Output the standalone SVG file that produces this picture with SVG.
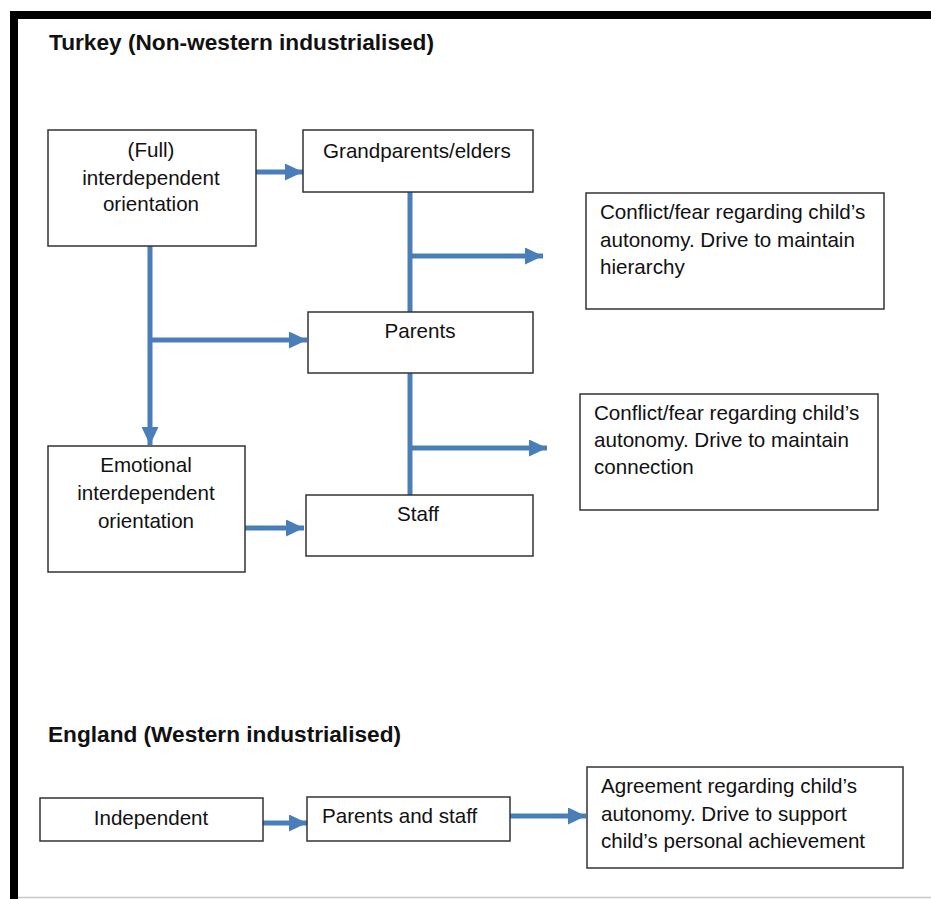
<svg xmlns="http://www.w3.org/2000/svg" width="931" height="899" viewBox="0 0 931 899">
<style>
.box{fill:#fff;stroke:#333;stroke-width:1.5}
.t{font-family:"Liberation Sans",Arial,sans-serif;font-size:20.6px;fill:#111}
.c{text-anchor:middle}
.h{font-family:"Liberation Sans",Arial,sans-serif;font-size:22px;font-weight:bold;fill:#111}
.con{fill:none;stroke:#4A7EBB;stroke-width:5}
</style>
<defs>
<marker id="ah" markerUnits="userSpaceOnUse" markerWidth="18" markerHeight="17" refX="18" refY="8.5" orient="auto" viewBox="0 0 18 17">
<path d="M0,0 L18,8.5 L0,17 z" fill="#4A7EBB"/>
</marker>
</defs>
<rect width="931" height="899" fill="#fff"/>
<path d="M14,899 V15 H931" fill="none" stroke="#000" stroke-width="8"/>
<line x1="18" y1="897.5" x2="931" y2="897.5" stroke="#c8c8c8" stroke-width="1.5"/>

<text class="h" x="49" y="50" textLength="385" lengthAdjust="spacingAndGlyphs">Turkey (Non-western industrialised)</text>
<text class="h" x="48" y="742" textLength="353" lengthAdjust="spacingAndGlyphs">England (Western industrialised)</text>

<g id="connectors">
<path class="con" d="M256,172 H303" marker-end="url(#ah)"/>
<path class="con" d="M150,246 V445" marker-end="url(#ah)"/>
<path class="con" d="M150,340 H307" marker-end="url(#ah)"/>
<path class="con" d="M410,192 V312"/>
<path class="con" d="M410,256 H543" marker-end="url(#ah)"/>
<path class="con" d="M410,373 V495"/>
<path class="con" d="M410,448 H547" marker-end="url(#ah)"/>
<path class="con" d="M245,528 H304" marker-end="url(#ah)"/>
<path class="con" d="M263,823 H307" marker-end="url(#ah)"/>
<path class="con" d="M510,816 H586" marker-end="url(#ah)"/>
</g>

<g id="full-interdependent">
<rect class="box" x="48" y="130" width="208" height="116"/>
<text class="t c" x="151" y="157">(Full)</text>
<text class="t c" x="151" y="185">interdependent</text>
<text class="t c" x="151" y="211">orientation</text>
</g>
<g id="grandparents">
<rect class="box" x="303" y="130" width="230" height="62"/>
<text class="t" x="323" y="158">Grandparents/elders</text>
</g>
<g id="conflict-hierarchy">
<rect class="box" x="586" y="193" width="298" height="116"/>
<text class="t" x="600" y="219">Conflict/fear regarding child’s</text>
<text class="t" x="600" y="247">autonomy. Drive to maintain</text>
<text class="t" x="600" y="274">hierarchy</text>
</g>
<g id="parents">
<rect class="box" x="308" y="312" width="225" height="61"/>
<text class="t c" x="420" y="338">Parents</text>
</g>
<g id="conflict-connection">
<rect class="box" x="580" y="394" width="298" height="116"/>
<text class="t" x="594" y="420">Conflict/fear regarding child’s</text>
<text class="t" x="594" y="447">autonomy. Drive to maintain</text>
<text class="t" x="594" y="474">connection</text>
</g>
<g id="emotional-interdependent">
<rect class="box" x="48" y="446" width="197" height="126"/>
<text class="t c" x="146" y="472">Emotional</text>
<text class="t c" x="146" y="500">interdependent</text>
<text class="t c" x="146" y="528">orientation</text>
</g>
<g id="staff">
<rect class="box" x="306" y="495" width="227" height="61"/>
<text class="t c" x="418" y="521">Staff</text>
</g>
<g id="independent">
<rect class="box" x="40" y="798" width="223" height="43"/>
<text class="t c" x="151" y="825">Independent</text>
</g>
<g id="parents-and-staff">
<rect class="box" x="307" y="797" width="203" height="44"/>
<text class="t" x="322" y="823">Parents and staff</text>
</g>
<g id="agreement">
<rect class="box" x="587" y="767" width="316" height="101"/>
<text class="t" x="601" y="793">Agreement regarding child’s</text>
<text class="t" x="601" y="821">autonomy. Drive to support</text>
<text class="t" x="601" y="848">child’s personal achievement</text>
</g>
</svg>
